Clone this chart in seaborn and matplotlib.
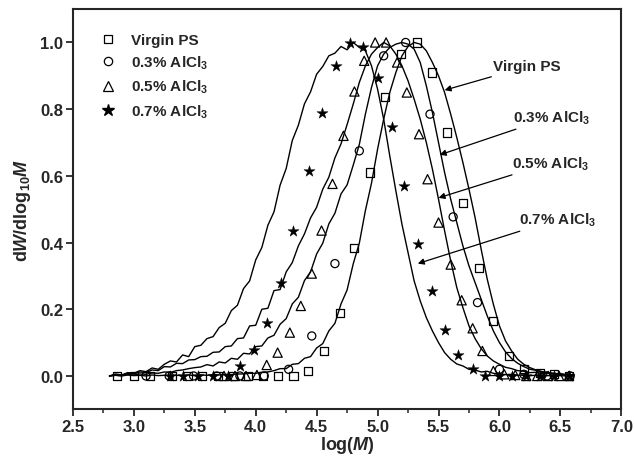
import numpy as np
import pandas as pd
import seaborn as sns
import matplotlib.pyplot as plt
from matplotlib.lines import Line2D
from matplotlib.ticker import MultipleLocator

# shared log(M) grid of the GPC traces
logm = [2.80, 2.85, 2.90, 2.95, 3.00, 3.05, 3.10, 3.15, 3.20, 3.25,
        3.30, 3.35, 3.40, 3.45, 3.50, 3.55, 3.60, 3.65, 3.70, 3.75,
        3.80, 3.85, 3.90, 3.95, 4.00, 4.05, 4.10, 4.15, 4.20, 4.25,
        4.30, 4.35, 4.40, 4.45, 4.50, 4.55, 4.60, 4.65, 4.70, 4.75,
        4.80, 4.85, 4.90, 4.95, 5.00, 5.05, 5.10, 5.15, 5.20, 5.25,
        5.30, 5.35, 5.40, 5.45, 5.50, 5.55, 5.60, 5.65, 5.70, 5.75,
        5.80, 5.85, 5.90, 5.95, 6.00, 6.05, 6.10, 6.15, 6.20, 6.25,
        6.30, 6.35, 6.40, 6.45, 6.50, 6.55, 6.60]

trace_ps = [0.000, 0.002, 0.000, 0.003, 0.001, 0.002, 0.000, 0.003, 0.001, 0.002,
            0.000, 0.002, 0.001, 0.003, 0.001, 0.003, 0.002, 0.004, 0.003, 0.005,
            0.004, 0.006, 0.006, 0.008, 0.008, 0.011, 0.012, 0.016, 0.022, 0.022,
            0.035, 0.037, 0.053, 0.058, 0.084, 0.097, 0.135, 0.158, 0.216, 0.258,
            0.336, 0.398, 0.496, 0.578, 0.680, 0.770, 0.850, 0.910, 0.960, 0.988,
            1.000, 0.995, 0.975, 0.940, 0.900, 0.850, 0.785, 0.715, 0.640, 0.560,
            0.475, 0.380, 0.290, 0.215, 0.150, 0.105, 0.075, 0.050, 0.035, 0.025,
            0.018, 0.013, 0.010, 0.008, 0.006, 0.004, 0.003]

trace_03 = [0.000, 0.002, 0.001, 0.004, 0.003, 0.006, 0.005, 0.009, 0.008, 0.012,
            0.011, 0.016, 0.018, 0.022, 0.025, 0.027, 0.034, 0.030, 0.042, 0.039,
            0.053, 0.050, 0.068, 0.066, 0.088, 0.090, 0.114, 0.122, 0.155, 0.172,
            0.216, 0.236, 0.286, 0.312, 0.366, 0.398, 0.456, 0.488, 0.546, 0.573,
            0.632, 0.694, 0.785, 0.865, 0.930, 0.965, 0.985, 0.995, 1.000, 0.995,
            0.980, 0.940, 0.870, 0.790, 0.700, 0.610, 0.530, 0.460, 0.390, 0.330,
            0.280, 0.230, 0.180, 0.135, 0.100, 0.072, 0.052, 0.038, 0.028, 0.020,
            0.017, 0.011, 0.010, 0.006, 0.006, 0.003, 0.003]

trace_05 = [0.000, 0.004, 0.002, 0.008, 0.006, 0.012, 0.010, 0.018, 0.016, 0.028,
            0.027, 0.038, 0.037, 0.048, 0.049, 0.058, 0.059, 0.071, 0.072, 0.088,
            0.090, 0.112, 0.114, 0.150, 0.152, 0.200, 0.203, 0.256, 0.259, 0.312,
            0.340, 0.390, 0.426, 0.474, 0.506, 0.560, 0.596, 0.654, 0.696, 0.754,
            0.815, 0.880, 0.930, 0.965, 0.985, 1.000, 0.990, 0.965, 0.930, 0.885,
            0.830, 0.770, 0.700, 0.620, 0.530, 0.435, 0.345, 0.265, 0.205, 0.150,
            0.112, 0.082, 0.060, 0.045, 0.035, 0.026, 0.022, 0.016, 0.014, 0.010,
            0.011, 0.007, 0.008, 0.005, 0.006, 0.003, 0.002]

trace_07 = [0.000, 0.006, 0.003, 0.010, 0.008, 0.016, 0.013, 0.024, 0.020, 0.035,
            0.045, 0.042, 0.063, 0.058, 0.088, 0.092, 0.112, 0.118, 0.145, 0.158,
            0.196, 0.212, 0.262, 0.285, 0.348, 0.385, 0.452, 0.492, 0.572, 0.622,
            0.706, 0.752, 0.816, 0.852, 0.905, 0.928, 0.960, 0.968, 0.988, 0.978,
            1.000, 0.985, 0.975, 0.930, 0.860, 0.770, 0.660, 0.555, 0.455, 0.370,
            0.285, 0.225, 0.175, 0.135, 0.100, 0.070, 0.050, 0.036, 0.030, 0.020,
            0.018, 0.012, 0.014, 0.008, 0.006, 0.004, 0.005, 0.002, 0.003, 0.001,
            0.002, 0.000, 0.001, 0.000, 0.001, 0.000, 0.000]

# sampled points (markers)
ps_x = [2.86, 3.00, 3.13, 3.31, 3.44, 3.56, 3.69, 3.81, 3.94, 4.06, 4.18, 4.31, 4.43, 4.56, 4.69,
        4.81, 4.94, 5.06, 5.19, 5.32, 5.45, 5.57, 5.70, 5.83, 5.95, 6.08, 6.20, 6.33, 6.45, 6.57]
ps_y = [0, 0, 0, 0, 0, 0, 0, 0, 0, 0, 0, 0, 0.015, 0.074, 0.19,
        0.385, 0.61, 0.836, 0.965, 1.0, 0.91, 0.73, 0.52, 0.325, 0.165, 0.06, 0.02, 0.01, 0.005, 0.0]

al03_x = [3.10, 3.29, 3.49, 3.68, 3.87, 4.07, 4.27, 4.46, 4.65, 4.85,
          5.05, 5.23, 5.43, 5.62, 5.82, 6.00, 6.20, 6.39, 6.58]
al03_y = [0, 0, 0, 0, 0, 0, 0.02, 0.12, 0.337, 0.675,
          0.96, 1.0, 0.785, 0.477, 0.22, 0.02, 0.005, 0.0, 0.0]

al05_x = [3.74, 3.83, 3.92, 4.01, 4.09, 4.18, 4.28, 4.37, 4.46, 4.54, 4.63, 4.72, 4.81, 4.89, 4.98,
          5.07, 5.16, 5.24, 5.34, 5.41, 5.50, 5.60, 5.69, 5.78, 5.86, 5.95, 6.04, 6.13, 6.22,
          6.31, 6.40, 6.49, 6.57]
al05_y = [0, 0, 0, 0.003, 0.033, 0.07, 0.13, 0.21, 0.307, 0.436, 0.576, 0.72, 0.853, 0.945, 1.0,
          1.0, 0.94, 0.85, 0.725, 0.59, 0.46, 0.334, 0.227, 0.143, 0.075, 0.015, 0.005, 0.003, 0,
          0, 0, 0, 0]

al07_x = [3.30, 3.40, 3.53, 3.65, 3.77, 3.87, 3.99, 4.09, 4.21, 4.31, 4.44, 4.54, 4.66, 4.77, 4.88,
          5.00, 5.12, 5.22, 5.33, 5.45, 5.55, 5.66, 5.78, 5.88, 6.00, 6.10, 6.22, 6.33, 6.45, 6.57]
al07_y = [0, 0, 0, 0, 0, 0.03, 0.077, 0.16, 0.278, 0.436, 0.615, 0.79, 0.93, 0.997, 0.985,
          0.893, 0.746, 0.57, 0.397, 0.254, 0.137, 0.063, 0.02, 0, 0, 0, 0, 0, 0, 0]

labels = ['Virgin PS', '0.3% AlCl$_3$', '0.5% AlCl$_3$', '0.7% AlCl$_3$']

sns.set_style('ticks')
plt.rcParams['font.family'] = ['Liberation Sans', 'DejaVu Sans']
plt.rcParams['font.weight'] = 'bold'
plt.rcParams['mathtext.fontset'] = 'custom'
plt.rcParams['mathtext.rm'] = 'Liberation Sans:bold'
plt.rcParams['mathtext.bf'] = 'Liberation Sans:bold'
plt.rcParams['mathtext.it'] = 'Liberation Sans:italic:bold'

fig, ax = plt.subplots(figsize=(6.34, 4.60), dpi=100)
fig.subplots_adjust(left=0.115, right=0.98, top=0.978, bottom=0.108)

for tr in [trace_ps, trace_03, trace_05, trace_07]:
    sns.lineplot(x=logm, y=tr, color='black', lw=1.0, ax=ax)

mk_style = dict(s=34, edgecolor='black', linewidth=0.9, zorder=3)
sns.scatterplot(x=ps_x, y=ps_y, marker='s', facecolor='none', ax=ax, **mk_style)
sns.scatterplot(x=al03_x, y=al03_y, marker='o', facecolor='none', ax=ax, **mk_style)
sns.scatterplot(x=al05_x, y=al05_y, marker='^', facecolor='none', ax=ax, s=44,
                edgecolor='black', linewidth=0.9, zorder=3)
sns.scatterplot(x=al07_x, y=al07_y, marker='*', color='black', ax=ax, s=70,
                edgecolor='black', linewidth=0.3, zorder=3)

ax.set_xlim(2.5, 7.0)
ax.set_ylim(-0.1, 1.1)
ax.xaxis.set_major_locator(MultipleLocator(0.5))
ax.xaxis.set_minor_locator(MultipleLocator(0.25))
ax.yaxis.set_major_locator(MultipleLocator(0.2))
ax.tick_params(which='major', direction='out', length=5, width=1.3, labelsize=12, pad=2)
ax.tick_params(which='minor', direction='out', length=3, width=1.1)
for sp in ax.spines.values():
    sp.set_visible(True)
    sp.set_linewidth(1.5)
for lab in ax.get_xticklabels() + ax.get_yticklabels():
    lab.set_fontweight('bold')

ax.set_xlabel('log($M$)', fontsize=13, fontweight='bold', labelpad=0)
ax.set_ylabel('d$W$/dlog$_{10}$$M$', fontsize=13, fontweight='bold', labelpad=5)

handles = [
    Line2D([], [], ls='', marker='s', ms=6, mfc='none', mec='black', mew=0.9),
    Line2D([], [], ls='', marker='o', ms=6, mfc='none', mec='black', mew=0.9),
    Line2D([], [], ls='', marker='^', ms=7, mfc='none', mec='black', mew=0.9),
    Line2D([], [], ls='', marker='*', ms=9, mfc='black', mec='black'),
]
ax.legend(handles, labels, loc='upper left', bbox_to_anchor=(0.025, 0.975), frameon=False,
          prop={'size': 11, 'weight': 'bold'}, handlelength=1.0, handletextpad=1.0,
          labelspacing=0.45)

arrow = dict(arrowstyle='-|>', color='black', lw=0.9, mutation_scale=9, shrinkA=0, shrinkB=0)
ax.annotate('Virgin PS', xy=(5.55, 0.857), xytext=(5.95, 0.928), fontsize=11,
            fontweight='bold', va='center', ha='left', arrowprops=arrow)
ax.annotate(labels[1], xy=(5.51, 0.663), xytext=(6.11, 0.776), fontsize=11,
            fontweight='bold', va='center', ha='left', arrowprops=arrow)
ax.annotate(labels[2], xy=(5.50, 0.534), xytext=(6.10, 0.639), fontsize=11,
            fontweight='bold', va='center', ha='left', arrowprops=arrow)
ax.annotate(labels[3], xy=(5.33, 0.337), xytext=(6.16, 0.47), fontsize=11,
            fontweight='bold', va='center', ha='left', arrowprops=arrow)

plt.savefig('out.png', dpi=100)
